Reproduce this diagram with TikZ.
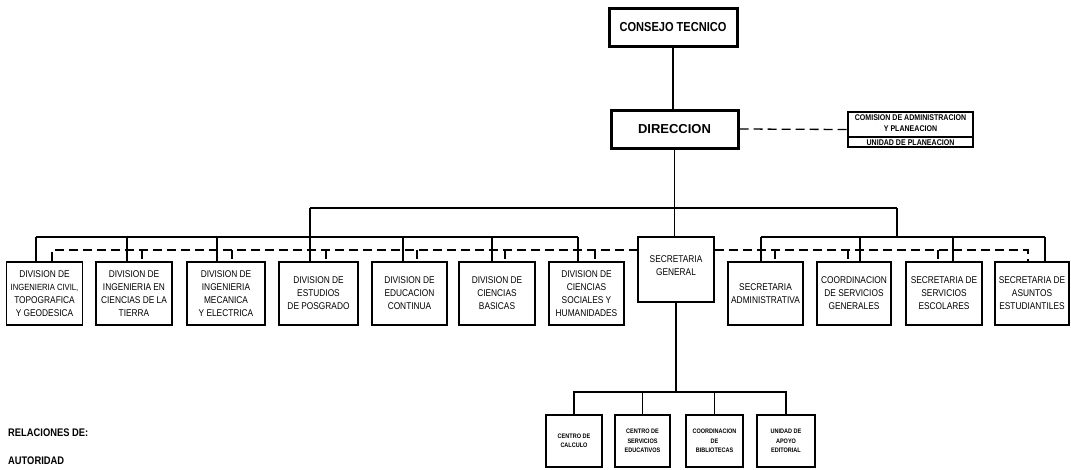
\documentclass[tikz,border=0pt]{standalone}
\usepackage{fontspec}
\setmainfont{Liberation Sans}[FakeStretch=0.85]
\newfontfamily\plainsans{Liberation Sans}
\begin{document}
\begin{tikzpicture}[x=1pt,y=-1pt,
  conn/.style={line width=1.4pt},
  dsh/.style={line width=1.3pt, dash pattern=on 9pt off 5pt},
  unitbox/.style={draw, line width=1.8pt, minimum width=76pt, minimum height=63pt, inner sep=0pt, align=center, font=\fontsize{9.8}{13}\selectfont},
  headbox/.style={draw, line width=3pt, minimum height=38pt, inner sep=0pt, font=\bfseries\fontsize{13}{15}\selectfont},
  subbox/.style={draw, line width=1.5pt, minimum height=52pt, inner sep=0pt, align=center, font=\bfseries\fontsize{6.5}{9.5}\selectfont},
  smalltext/.style={font=\bfseries\fontsize{8.3}{11}\selectfont, align=center, inner sep=0pt},
  legend/.style={font=\bfseries\fontsize{11}{13}\selectfont, anchor=west, inner sep=0pt}]
\useasboundingbox[fill=white] (0,0) rectangle (1071,469);

% top
\node[headbox, minimum width=128pt] (consejo) at (673,27) {CONSEJO TECNICO};
\node[headbox, minimum width=127pt, font=\plainsans\bfseries\fontsize{13}{15}\selectfont] (direccion) at (674.5,129) {DIRECCION};
\node[draw, line width=1.5pt, minimum width=125pt, minimum height=35pt, inner sep=0pt] (com) at (910.5,129.5) {};
\draw[line width=1.2pt] (com.west |- 0,137) -- (com.east |- 0,137);
\node[smalltext] (comt) at (910.5,123) {COMISION DE ADMINISTRACION\\Y PLANEACION};
\node[smalltext] (unit) at (910.5,142.5) {UNIDAD DE PLANEACION};

% main row
\node[unitbox] (b1) at (44.5,293.5) {DIVISION DE\\{\fontsize{9}{13}\selectfont INGENIERIA CIVIL,}\\TOPOGRAFICA\\Y GEODESICA};
\node[unitbox] (b2) at (134,293.5) {DIVISION DE\\INGENIERIA EN\\CIENCIAS DE LA\\TIERRA};
\node[unitbox, minimum width=78pt] (b3) at (226,293.5) {DIVISION DE\\INGENIERIA\\MECANICA\\Y ELECTRICA};
\node[unitbox, minimum width=79pt] (b4) at (318.5,293.5) {DIVISION DE\\ESTUDIOS\\DE POSGRADO};
\node[unitbox, minimum width=75pt] (b5) at (409.5,293.5) {DIVISION DE\\EDUCACION\\CONTINUA};
\node[unitbox] (b6) at (497,293.5) {DIVISION DE\\CIENCIAS\\BASICAS};
\node[unitbox, minimum width=75pt] (b7) at (586.5,293.5) {DIVISION DE\\CIENCIAS\\SOCIALES Y\\HUMANIDADES};
\node[unitbox, minimum height=65pt] (sg) at (676,269.5) {};
\node[font=\fontsize{9.8}{13}\selectfont, align=center, inner sep=0pt] (sgt) at (676,266) {SECRETARIA\\GENERAL};
\node[unitbox, minimum width=75pt] (b9) at (765.5,293.5) {SECRETARIA\\ADMINISTRATIVA};
\node[unitbox, minimum width=74pt] (b10) at (854,293.5) {COORDINACION\\DE SERVICIOS\\GENERALES};
\node[unitbox] (b11) at (944,293.5) {SECRETARIA DE\\SERVICIOS\\ESCOLARES};
\node[unitbox, minimum width=74pt] (b12) at (1032,293.5) {SECRETARIA DE\\ASUNTOS\\ESTUDIANTILES};

% bottom row
\node[subbox, minimum width=56pt] (c1) at (574,441) {CENTRO DE\\CALCULO};
\node[subbox, minimum width=55pt] (c2) at (642.5,441) {CENTRO DE\\SERVICIOS\\EDUCATIVOS};
\node[subbox, minimum width=57pt] (c3) at (714.5,441) {COORDINACION\\DE\\BIBLIOTECAS};
\node[subbox, minimum width=58pt] (c4) at (786,441) {UNIDAD DE\\APOYO\\EDITORIAL};

% legend
\node[legend] (rel) at (8,433) {RELACIONES DE:};
\node[legend] (aut) at (8,461) {AUTORIDAD};

% authority lines
\draw[conn] (consejo.south) -- (consejo.south |- direccion.north);
\draw[conn] (direccion.south) -- (direccion.south |- sg.north);
\coordinate (tbL) at (310,208);
\coordinate (tbR) at (897,208);
\draw[conn] (tbL) -- (tbR);
\draw[conn] (tbL) -- (b4.north -| tbL);
\coordinate (lbL) at (36,237);
\coordinate (lbR) at (578,237);
\draw[conn] (lbL) -- (lbR);
\foreach \n/\x in {b1/36,b2/127,b3/217,b5/403,b6/492,b7/578}
  \draw[conn] (\x,237) -- (\n.north -| \x,237);
\coordinate (rbL) at (761,237);
\coordinate (rbR) at (1045,237);
\draw[conn] (rbL) -- (rbR);
\draw[conn] (tbR) -- (tbR |- rbL);
\foreach \n/\x in {b9/761,b10/860,b11/953,b12/1045}
  \draw[conn] (\x,237) -- (\n.north -| \x,237);
% secretaria general subordinates
\coordinate (bb) at (676,392);
\draw[conn] (sg.south) -- (sg.south |- bb);
\draw[conn] (c1.north) -- (c1.north |- bb) -- (c4.north |- bb) -- (c4.north);
\draw[conn] (c2.north) -- (c2.north |- bb);
\draw[conn] (c3.north) -- (c3.north |- bb);

% coordination (dashed) lines
\draw[dsh] (direccion.east) -- (com.west);
\coordinate (dL) at (52,250);
\coordinate (dR) at (1028,250);
\draw[dsh] (b1.north -| dL) -- (dL) -- (dL -| sg.west);
\draw[dsh] (dR -| sg.east) -- (dR) -- (b12.north -| dR);
\foreach \n/\x in {b2/142,b3/232,b4/326,b5/417,b6/505,b7/595,b9/775,b10/848,b11/938}
  \draw[dsh] (\x,250) -- (\n.north -| \x,250);
\end{tikzpicture}
\end{document}
